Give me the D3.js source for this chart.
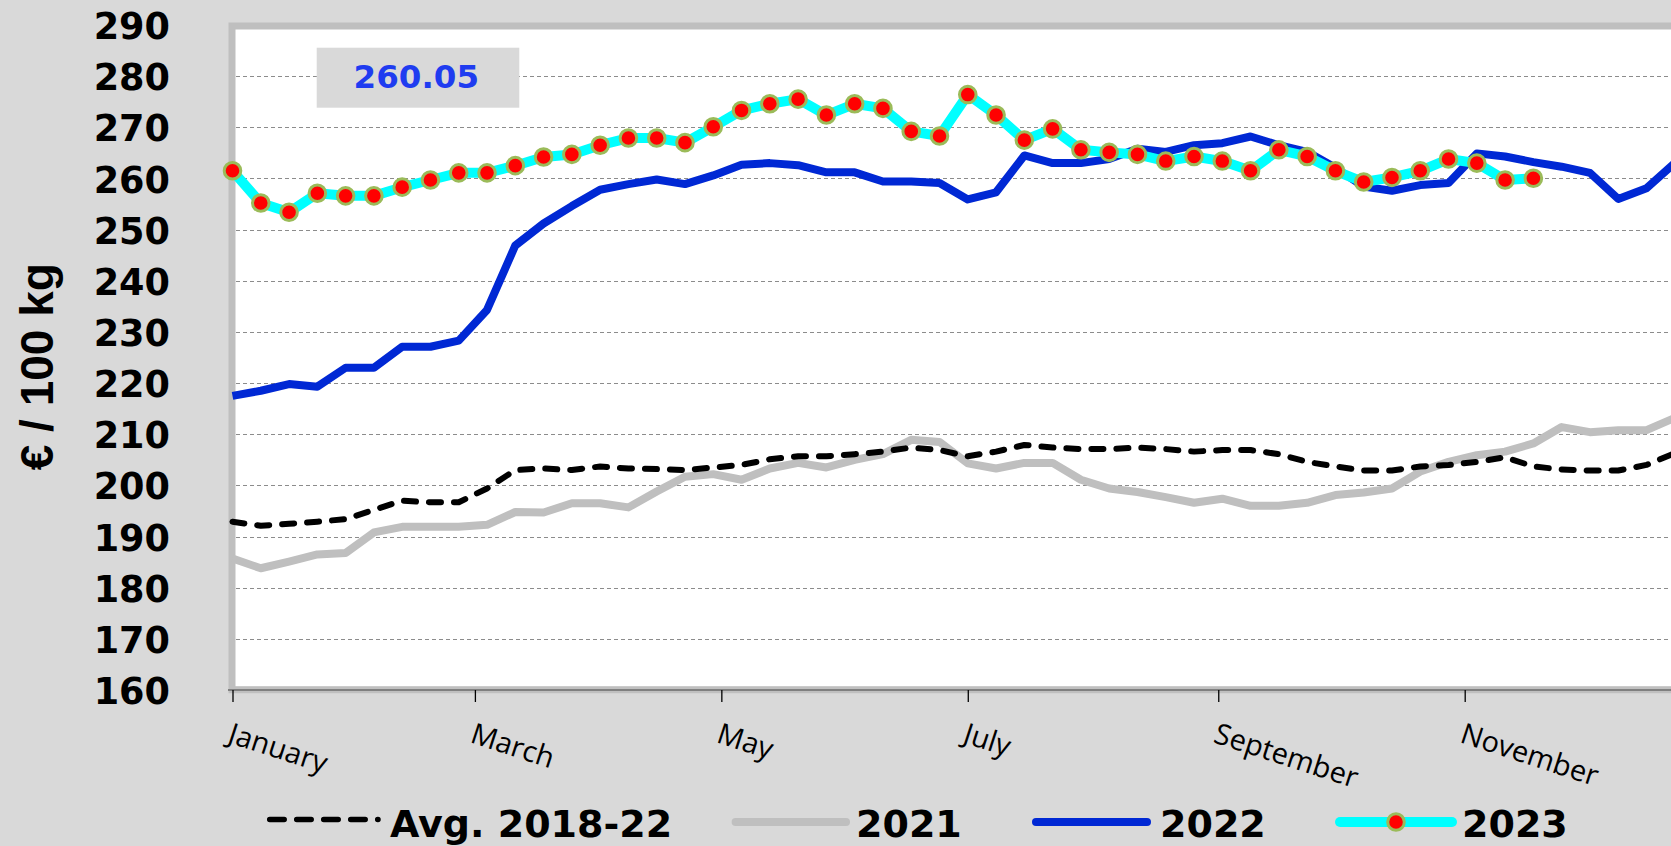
<!DOCTYPE html>
<html><head><meta charset="utf-8">
<script src="https://cdn.jsdelivr.net/npm/d3@7"></script>
<style>
html,body{margin:0;padding:0;background:#d9d9d9;}
svg{display:block;}
</style></head><body>
<svg id="chart" width="1671" height="846"></svg>
<script>
// ---- data ----
const avgValues = [192.9,192.1,192.5,192.9,193.4,195.2,197.0,196.7,196.7,199.4,
  203.0,203.3,203.0,203.7,203.3,203.2,203.0,203.5,204.0,205.1,
  205.7,205.7,206.1,206.6,207.4,206.9,205.7,206.6,207.9,207.4,
  207.1,207.1,207.4,207.1,206.6,206.9,206.9,206.1,204.6,203.7,
  202.9,202.9,203.7,204.0,204.6,205.5,203.7,203.1,202.9,202.9,
  204.0,206.3];
const values2021 = [185.7,183.8,185.1,186.5,186.8,190.8,191.9,191.9,191.9,192.3,
  194.8,194.7,196.5,196.5,195.7,198.8,201.7,202.2,201.1,203.3,
  204.4,203.5,205.0,206.1,208.9,208.5,204.3,203.3,204.4,204.4,
  201.1,199.4,198.7,197.7,196.6,197.4,196.0,196.0,196.6,198.1,
  198.6,199.4,202.7,204.6,205.9,206.6,208.2,211.4,210.4,210.8,
  210.8,213.2];
const values2022 = [217.5,218.5,219.8,219.3,223.0,223.0,227.1,227.1,228.3,234.3,
  246.9,251.2,254.6,257.8,258.9,259.8,258.9,260.6,262.7,263.0,
  262.6,261.2,261.2,259.4,259.4,259.1,255.9,257.3,264.5,263.0,
  263.0,263.8,265.8,265.2,266.5,266.9,268.2,266.5,265.2,262.1,
  258.4,257.6,258.7,259.1,264.9,264.3,263.2,262.3,261.1,256.0,
  258.1,263.0];
const values2023 = [261.5,255.2,253.4,257.1,256.6,256.6,258.3,259.7,261.1,261.1,
  262.5,264.2,264.7,266.5,267.9,267.9,267.0,270.1,273.3,274.6,
  275.5,272.4,274.6,273.7,269.2,268.3,276.4,272.4,267.5,269.7,
  265.6,265.1,264.7,263.4,264.3,263.4,261.5,265.6,264.3,261.5,
  259.3,260.2,261.5,263.8,263.0,259.7,260.05];
const yTicks = [160,170,180,190,200,210,220,230,240,250,260,270,280,290];
const monthLabels = ["January","March","May","July","September","November"];
const seriesNames = ["Avg. 2018-22","2021","2022","2023"];
const lastValueLabel = "260.05";
const yTitle = "€ / 100 kg";

// ---- setup ----
const W = 1671, H = 846;
const svg = d3.select("#chart");
const start = new Date(2024, 0, 1);
const x = d3.scaleTime().domain([start, new Date(2025, 0, 1)]).range([232.5, 232.5 + 366 * 4.04]);
const y = d3.scaleLinear().domain([160, 290]).range([690, 25]);
const dateOf = i => d3.timeDay.offset(start, 7 * i);
const monthDates = monthLabels.map((m, i) => new Date(2024, 2 * i, 1));

svg.append("rect").attr("width", W).attr("height", H).attr("fill", "#d9d9d9");

// plot area
const px0 = x(start) - 0.5, py0 = y(290) + 1, py1 = y(160) - 0.3;
svg.append("rect").attr("x", px0).attr("y", py0)
  .attr("width", 2000).attr("height", py1 - py0)
  .attr("fill", "#ffffff").attr("stroke", "#bfbfbf").attr("stroke-width", 7);

// gridlines
svg.append("g").selectAll("line")
  .data(yTicks.filter(v => v > 160 && v < 290))
  .join("line")
  .attr("x1", px0 + 4).attr("x2", W)
  .attr("y1", d => Math.round(y(d)) + 0.5).attr("y2", d => Math.round(y(d)) + 0.5)
  .attr("stroke", "#8c8c8c").attr("stroke-width", 1).attr("stroke-dasharray", "4,3");

// y axis labels
const yAxis = svg.append("g").attr("transform", `translate(${px0},0)`)
  .call(d3.axisLeft(y).tickValues(yTicks).tickSize(0).tickPadding(62));
yAxis.select(".domain").remove();
yAxis.selectAll("text")
  .attr("dy", "0.37em")
  .style("font-family", "'DejaVu Sans', sans-serif")
  .style("font-weight", "bold").style("font-size", "36.6px").attr("fill", "#000");

// y title
svg.append("text").text(yTitle)
  .attr("transform", "translate(53.3,366.7) rotate(-90)")
  .attr("text-anchor", "middle")
  .style("font-family", "'Liberation Sans', Arial, sans-serif")
  .style("font-weight", "bold").style("font-size", "46px").attr("fill", "#000");

// x axis
const xAxis = svg.append("g").attr("transform", `translate(0,${y(160)})`)
  .call(d3.axisBottom(x).tickValues(monthDates).tickSize(12).tickSizeOuter(0)
    .tickFormat((d, i) => monthLabels[i]));
xAxis.select(".domain").attr("stroke", "#7f7f7f").attr("stroke-width", 1.8)
  .attr("d", `M${px0 - 4},0H${W}`);
xAxis.selectAll(".tick line").attr("stroke", "#000").attr("stroke-width", 1.3);
xAxis.selectAll("text")
  .attr("text-anchor", "start").attr("x", 0).attr("y", 21).attr("dy", null)
  .attr("transform", "translate(0,32) rotate(18)")
  .style("font-family", "'Open Sans', sans-serif")
  .style("font-size", "29px").attr("fill", "#000");

// lines
const line = d3.line().x((d, i) => x(dateOf(i))).y(d => y(d));
const gLines = svg.append("g").attr("fill", "none")
  .attr("stroke-linejoin", "round");
gLines.append("path").attr("d", line(values2021))
  .attr("stroke", "#bfbfbf").attr("stroke-width", 8);
gLines.append("path").attr("d", line(avgValues))
  .attr("stroke", "#000").attr("stroke-width", 6)
  .attr("stroke-dasharray", "12,13").attr("stroke-linecap", "round");
gLines.append("path").attr("d", line(values2022))
  .attr("stroke", "#0028d4").attr("stroke-width", 8);
gLines.append("path").attr("d", line(values2023))
  .attr("stroke", "#00ffff").attr("stroke-width", 10);
svg.append("g").selectAll("circle").data(values2023).join("circle")
  .attr("cx", (d, i) => x(dateOf(i))).attr("cy", d => y(d)).attr("r", 8.3)
  .attr("fill", "#ff0000").attr("stroke", "#9bbb59").attr("stroke-width", 3);

// value label box
svg.append("rect").attr("x", 316.7).attr("y", 47.7).attr("width", 202.6).attr("height", 60)
  .attr("fill", "#d9d9d9");
svg.append("text").text(lastValueLabel)
  .attr("x", 416.3).attr("y", 88.3).attr("text-anchor", "middle")
  .style("font-family", "'DejaVu Sans', sans-serif")
  .style("font-weight", "bold").style("font-size", "32.5px").attr("fill", "#1f3cf0");

// legend
const lg = svg.append("g");
const legendFont = g => g.style("font-family", "'DejaVu Sans', sans-serif")
  .style("font-weight", "bold").style("font-size", "38px").attr("fill", "#000");
// avg
lg.append("line").attr("x1", 269.7).attr("x2", 378).attr("y1", 819.5).attr("y2", 819.5)
  .attr("stroke", "#000").attr("stroke-width", 5.5).attr("stroke-dasharray", "14.5,12.5")
  .attr("stroke-linecap", "round");
lg.append("text").text(seriesNames[0]).attr("x", 390).attr("y", 836.5).call(legendFont);
// 2021
lg.append("line").attr("x1", 735.6).attr("x2", 846).attr("y1", 822).attr("y2", 822)
  .attr("stroke", "#bfbfbf").attr("stroke-width", 8).attr("stroke-linecap", "round");
lg.append("text").text(seriesNames[1]).attr("x", 856).attr("y", 836.5).call(legendFont);
// 2022
lg.append("line").attr("x1", 1036).attr("x2", 1147).attr("y1", 822).attr("y2", 822)
  .attr("stroke", "#0028d4").attr("stroke-width", 8).attr("stroke-linecap", "round");
lg.append("text").text(seriesNames[2]).attr("x", 1160).attr("y", 836.5).call(legendFont);
// 2023
lg.append("line").attr("x1", 1340).attr("x2", 1452).attr("y1", 822).attr("y2", 822)
  .attr("stroke", "#00ffff").attr("stroke-width", 10).attr("stroke-linecap", "round");
lg.append("circle").attr("cx", 1396).attr("cy", 822).attr("r", 8.3)
  .attr("fill", "#ff0000").attr("stroke", "#9bbb59").attr("stroke-width", 3);
lg.append("text").text(seriesNames[3]).attr("x", 1462).attr("y", 836.5).call(legendFont);
</script>
</body></html>
